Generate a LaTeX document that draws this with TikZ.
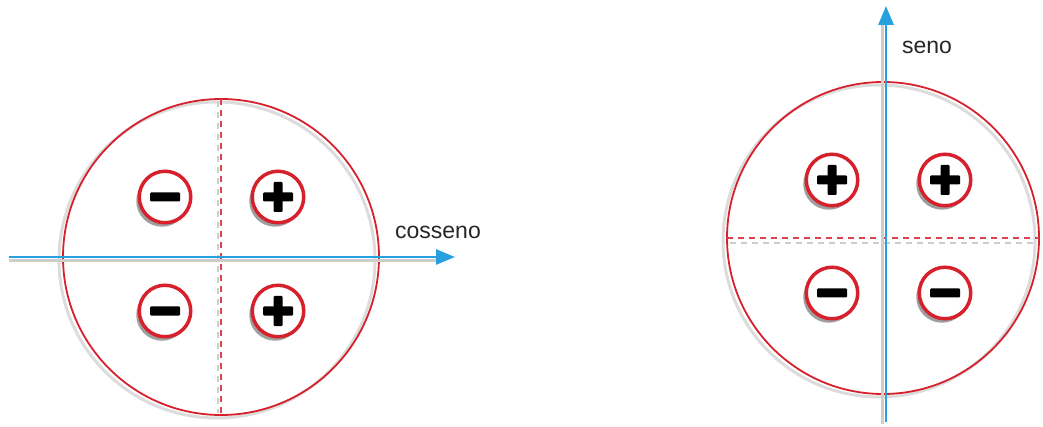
\documentclass[tikz,border=0pt]{standalone}
\usepackage{fontspec}
\setmainfont{Liberation Sans}
\usetikzlibrary{arrows.meta,shadows}
\definecolor{ringred}{RGB}{214,32,44}
\definecolor{axisblue}{RGB}{38,160,222}
\definecolor{shadegray}{RGB}{205,205,205}
\tikzset{
  bigcirc/.style={circle,draw=ringred,line width=1.8pt,inner sep=0pt,outer sep=0pt,minimum size=#1},
  ringshadow/.style={draw=shadegray,line width=3pt,opacity=0.7},
  sign/.style={circle,draw=ringred,line width=3.5pt,fill=white,inner sep=0pt,minimum size=51.5pt,
    drop shadow={shadow xshift=-3pt,shadow yshift=-4pt,opacity=0.5,fill=black!75}},
  axis/.style={draw=axisblue,line width=2.8pt},
  axisshadow/.style={draw=shadegray,line width=3pt},
  divider/.style={draw=ringred!85,line width=1.4pt,dash pattern=on 6pt off 5pt},
  dividershadow/.style={draw=shadegray,line width=1.4pt,dash pattern=on 6pt off 5pt},
  bar/.style={fill=black,rounded corners=1pt},
  lbl/.style={text=black!85,font=\fontsize{23}{26}\selectfont,inner sep=0pt},
  tip/.style={-{Triangle[length=19pt,width=15pt]}},
}
\newcommand\minusbar[1]{\fill[bar,shift={(#1.center)}] (-15,-4.5) rectangle (15,4.5);}
\newcommand\plusbar[1]{\minusbar{#1}\fill[bar,shift={(#1.center)}] (-4.5,-15) rectangle (4.5,15);}
\begin{document}
\begin{tikzpicture}[x=1pt,y=-1pt]
\useasboundingbox (0,0) rectangle (1043,427);
% ---------- left: cosseno ----------
\draw[ringshadow] (217,260) circle[radius=158];
\node[bigcirc=316pt] (C1) at (221,257) {};
\draw[dividershadow] (218,101) -- (218,413);
\draw[divider] (C1.north) -- (C1.south);
\coordinate (c1s) at (9,257);
\coordinate (c1e) at (455,257);
\coordinate (c1ss) at (9,261);
\coordinate (c1se) at (440,261);
\draw[axisshadow] (c1ss) -- (c1se);
\draw[axis,tip] (c1s) -- (c1e);
\node[lbl] (cos) at (438,232) {cosseno};
\node[sign] (L1) at (165,197) {};
\node[sign] (L2) at (278,197) {};
\node[sign] (L3) at (165,311) {};
\node[sign] (L4) at (278,311) {};
\minusbar{L1}
\plusbar{L2}
\minusbar{L3}
\plusbar{L4}
% ---------- right: seno ----------
\draw[ringshadow] (879,241) circle[radius=156];
\node[bigcirc=312pt] (C2) at (883,238) {};
\draw[dividershadow] (730,243) -- (1036,243);
\draw[divider] (C2.west) -- (C2.east);
\coordinate (s2) at (886,422);
\coordinate (e2) at (886,6);
\coordinate (s2s) at (882,424);
\coordinate (e2s) at (882,20);
\draw[axisshadow] (s2s) -- (e2s);
\draw[axis,tip] (s2) -- (e2);
\node[lbl] (sen) at (927,47) {seno};
\node[sign] (R1) at (832,180) {};
\node[sign] (R2) at (945,180) {};
\node[sign] (R3) at (832,293) {};
\node[sign] (R4) at (945,293) {};
\plusbar{R1}
\plusbar{R2}
\minusbar{R3}
\minusbar{R4}
\end{tikzpicture}
\end{document}
